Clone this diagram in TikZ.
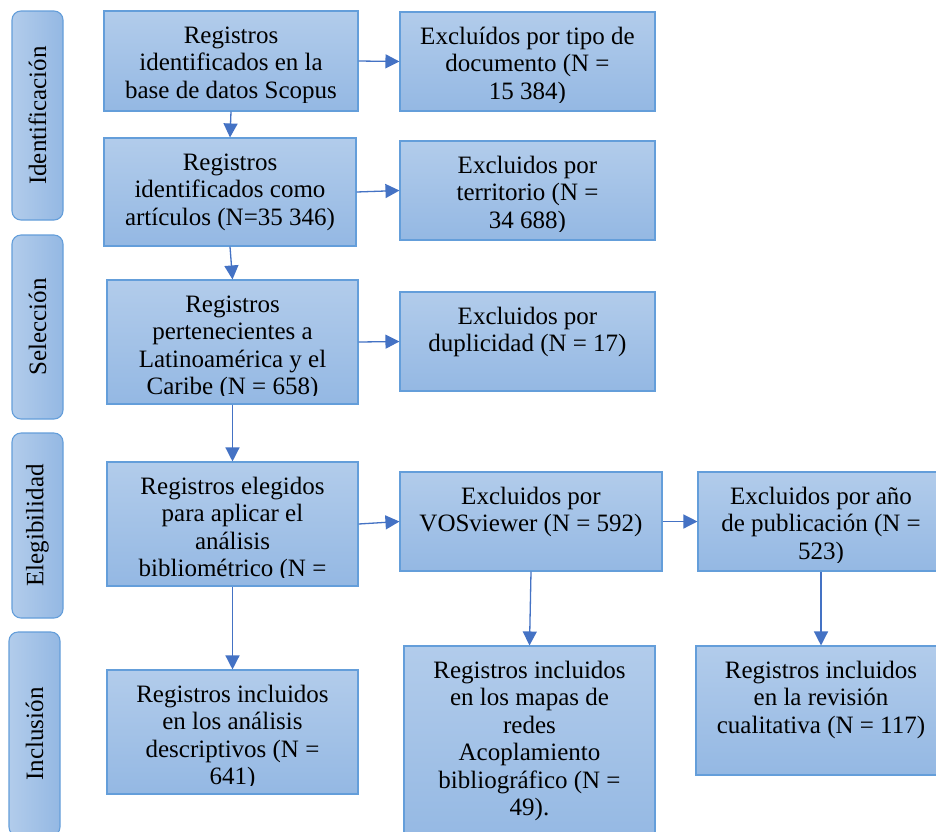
\documentclass[tikz,border=0pt]{standalone}
\usepackage{fontspec}
\setmainfont{Liberation Serif}
\usetikzlibrary{arrows.meta}
\definecolor{boxtop}{RGB}{178,204,235}
\definecolor{boxbot}{RGB}{148,184,227}
\definecolor{boxline}{RGB}{100,158,218}
\definecolor{arrowblue}{RGB}{68,114,196}
\tikzset{
  mybox/.style={rectangle, draw=boxline, line width=1.1pt, top color=boxtop, bottom color=boxbot, inner sep=0pt},
  boxtext/.style={align=center, inner sep=0pt, font=\fontsize{25}{27.5}\selectfont, text=black},
  sidebox/.style={rectangle, rounded corners=9pt, draw=boxline, line width=1.1pt, left color=boxtop, right color=boxbot, inner sep=0pt},
  sidetext/.style={rotate=90, inner sep=0pt, font=\fontsize{25}{27.5}\selectfont, text=black},
  arr/.style={draw=arrowblue, line width=1.3pt, -{Triangle[length=14pt,width=14pt]}}
}
\newcommand{\flowbox}[6]{%
  \node[mybox, minimum width={#4-#2}, minimum height={#5-#3}] (#1) at ({(#2+#4)/2},{(#3+#5)/2}) {};
  \begin{scope}
    \clip (#2,#3) rectangle (#4,#5-9);
    \node[boxtext, anchor=north] (#1t) at ({(#2+#4)/2},#3+14.5) {\rule{0pt}{17.5pt}#6};
  \end{scope}}
\newcommand{\sidelabel}[6]{%
  \node[sidebox, minimum width={#4-#2}, minimum height={#5-#3}] (#1) at ({(#2+#4)/2},{(#3+#5)/2}) {};
  \node[sidetext] (#1t) at (#1.center) {#6};}
\begin{document}
\begin{tikzpicture}[x=1pt,y=-1pt]
\useasboundingbox (0,0) rectangle (936,831);
\clip (0,0) rectangle (936,831);
\fill[white] (0,0) rectangle (936,831);
% side labels
\sidelabel{s1}{12}{11}{63}{220}{Identificación}
\sidelabel{s2}{12}{235}{63}{419}{Selección}
\sidelabel{s3}{12}{433}{63}{618}{Elegibilidad}
\sidelabel{s4}{9}{632}{60}{836}{Inclusión}
% boxes
\flowbox{A}{104}{11}{358}{111}{Registros\\identificados en la\\base de datos Scopus}
\flowbox{B}{400}{12}{655}{111}{Excluídos por tipo de\\documento (N =\\15 384)}
\flowbox{C}{104}{138}{356}{246}{Registros\\identificados como\\artículos (N=35 346)}
\flowbox{D}{400}{141}{655}{240}{Excluidos por\\territorio (N =\\34 688)}
\flowbox{E}{107}{280}{358}{404}{Registros\\pertenecientes a\\Latinoamérica y el\\Caribe (N = 658)}
\flowbox{F}{400}{292}{655}{391}{Excluidos por\\duplicidad (N = 17)}
\flowbox{G}{107}{462}{358}{586}{Registros elegidos\\para aplicar el\\análisis\\bibliométrico (N =}
\flowbox{H}{400}{472}{662}{571}{Excluidos por\\VOSviewer (N = 592)}
\flowbox{I}{698}{472}{944}{571}{Excluidos por año\\de publicación (N =\\523)}
\flowbox{J}{107}{670}{358}{794}{Registros incluidos\\en los análisis\\descriptivos (N =\\641)}
\flowbox{K}{404}{646}{655}{845}{Registros incluidos\\en los mapas de\\redes\\Acoplamiento\\bibliográfico (N =\\49).}
\flowbox{L}{696}{646}{946}{775}{Registros incluidos\\en la revisión\\cualitativa (N = 117)}
% arrows
\draw[arr] (A.south) -- (C.north);
\draw[arr] (A.east) -- (B.west);
\draw[arr] (C.east) -- (D.west);
\draw[arr] (C.south) -- (E.north);
\draw[arr] (E.east) -- (F.west);
\draw[arr] (E.south) -- (G.north);
\draw[arr] (G.east) -- (H.west);
\draw[arr] (G.south) -- (J.north);
\draw[arr] (H.east) -- (I.west);
\draw[arr] (H.south) -- (K.north);
\draw[arr] (I.south) -- (L.north);
\end{tikzpicture}
\end{document}
